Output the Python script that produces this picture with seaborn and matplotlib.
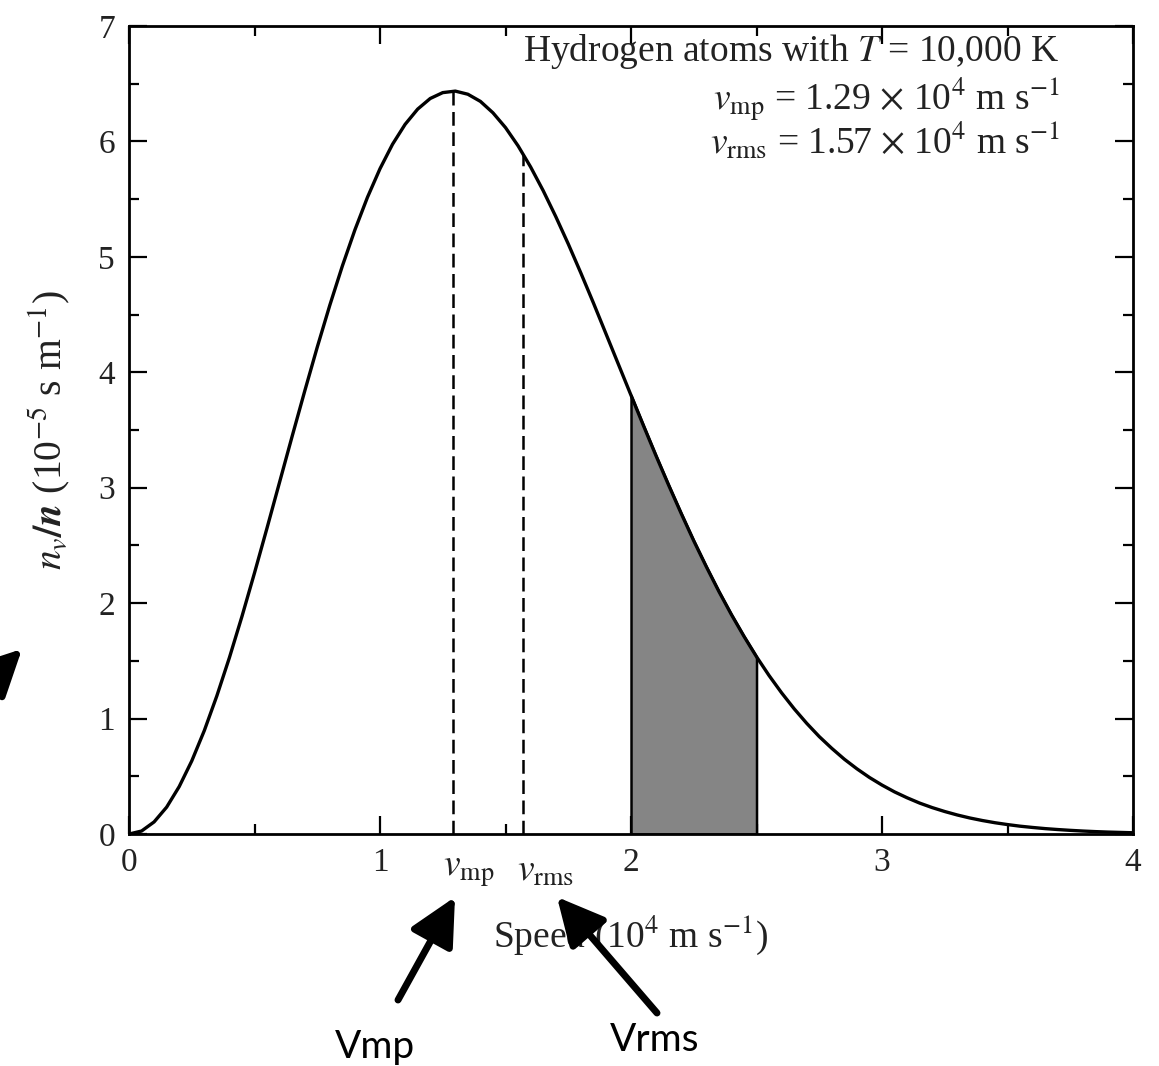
# Maxwell-Boltzmann speed distribution, hydrogen at 10,000 K
import numpy as np
import pandas as pd
import seaborn as sns
import matplotlib.pyplot as plt
import matplotlib
from matplotlib.ticker import MultipleLocator

sns.set_style('ticks')
plt.rcParams['font.family'] = ['Liberation Serif', 'DejaVu Serif']
plt.rcParams['mathtext.fontset'] = 'stix'

# Curve (speed in 1e4 m/s, n_v/n in 1e-5 s/m)
speed = [0.00, 0.05, 0.10, 0.15, 0.20, 0.25, 0.30, 0.35, 0.40, 0.45,
         0.50, 0.55, 0.60, 0.65, 0.70, 0.75, 0.80, 0.85, 0.90, 0.95,
         1.00, 1.05, 1.10, 1.15, 1.20, 1.25, 1.30, 1.35, 1.40, 1.45,
         1.50, 1.55, 1.60, 1.65, 1.70, 1.75, 1.80, 1.85, 1.90, 1.95,
         2.00, 2.05, 2.10, 2.15, 2.20, 2.25, 2.30, 2.35, 2.40, 2.45,
         2.50, 2.55, 2.60, 2.65, 2.70, 2.75, 2.80, 2.85, 2.90, 2.95,
         3.00, 3.05, 3.10, 3.15, 3.20, 3.25, 3.30, 3.35, 3.40, 3.45,
         3.50, 3.55, 3.60, 3.65, 3.70, 3.75, 3.80, 3.85, 3.90, 3.95, 4.00]
nv = [0.000, 0.026, 0.105, 0.233, 0.411, 0.633, 0.896, 1.197, 1.528, 1.885,
      2.262, 2.652, 3.049, 3.446, 3.837, 4.218, 4.581, 4.921, 5.234, 5.516,
      5.764, 5.976, 6.148, 6.280, 6.372, 6.423, 6.436, 6.409, 6.347, 6.248,
      6.120, 5.962, 5.779, 5.574, 5.350, 5.112, 4.861, 4.602, 4.335, 4.068,
      3.801, 3.536, 3.275, 3.022, 2.777, 2.540, 2.316, 2.102, 1.901, 1.713,
      1.536, 1.373, 1.223, 1.085, 0.959, 0.844, 0.742, 0.648, 0.565, 0.490,
      0.424, 0.365, 0.314, 0.268, 0.229, 0.195, 0.165, 0.139, 0.117, 0.098,
      0.082, 0.068, 0.057, 0.047, 0.039, 0.032, 0.026, 0.021, 0.017, 0.014, 0.011]

v_mp, v_rms = 1.29, 1.57
nv_at_mp, nv_at_rms = 6.44, 5.89
shade_lo, shade_hi = 2.0, 2.5

df = pd.DataFrame({'speed': speed, 'nv': nv})
shade = df[(df['speed'] >= shade_lo) & (df['speed'] <= shade_hi)]

fig = plt.figure(figsize=(11.59, 10.66), dpi=100)
ax = fig.add_axes([0.1113, 0.2176, 0.8663, 0.758])

ax.fill_between(shade['speed'], 0, shade['nv'], color='#858585',
                edgecolor='black', linewidth=1.8, zorder=1)
sns.lineplot(data=df, x='speed', y='nv', ax=ax, color='black', linewidth=2.4, zorder=3)
ax.vlines([v_mp, v_rms], 0, [nv_at_mp, nv_at_rms], colors='black',
          linewidth=1.8, linestyles=[(0, (5.5, 2.6))], zorder=2)

ax.set_xlim(0, 4)
ax.set_ylim(0, 7)
ax.xaxis.set_major_locator(MultipleLocator(1))
ax.xaxis.set_minor_locator(MultipleLocator(0.5))
ax.yaxis.set_major_locator(MultipleLocator(1))
ax.yaxis.set_minor_locator(MultipleLocator(0.5))
ax.tick_params(which='both', direction='in', top=True, right=True,
               labelsize=24, width=1.6, color='black', labelcolor='#222222')
ax.tick_params(which='major', length=13, pad=10)
ax.tick_params(which='minor', length=7)
for s in ax.spines.values():
    s.set_linewidth(2.0)
    s.set_color('black')

ax.set_xlabel(r'Speed (10$^4$ m s$^{-1}$)', fontsize=27, labelpad=25, color='#222222')
ax.set_ylabel(r'$\boldsymbol{n_v/n}$ (10$^{-5}$ s m$^{-1}$)', fontsize=28.5, labelpad=19,
              color='#222222')

# labels for the two special speeds under the axis
lab_tr = matplotlib.transforms.blended_transform_factory(ax.transData, ax.transAxes)
ax.text(v_mp - 0.04, -0.025, r'$v_{\rm mp}$', transform=lab_tr, ha='left', va='top',
        fontsize=27, color='#222222')
ax.text(v_rms - 0.025, -0.025, r'$v_{\rm rms}$', transform=lab_tr, ha='left', va='top',
        fontsize=27, color='#222222')

ax.text(0.927, 0.968, r'Hydrogen atoms with $T$ = 10,000 K', transform=ax.transAxes,
        ha='right', va='center', fontsize=27, color='#222222')
ax.text(0.927, 0.908, r'$v_{\rm mp}$ = 1.29 $\times$ 10$^4$ m s$^{-1}$', transform=ax.transAxes,
        ha='right', va='center', fontsize=27, color='#222222')
ax.text(0.927, 0.857, r'$v_{\rm rms}$ = 1.57 $\times$ 10$^4$ m s$^{-1}$', transform=ax.transAxes,
        ha='right', va='center', fontsize=27, color='#222222')

# overlay arrows and sans-serif captions
arrow = dict(arrowstyle='-|>,head_length=0.8,head_width=0.4', mutation_scale=36,
             lw=5, color='black', shrinkA=0, shrinkB=0)
H = 1066
ax.annotate('', xy=(455, H - 897), xytext=(398, H - 1000),
            xycoords='figure pixels', textcoords='figure pixels', arrowprops=arrow)
ax.annotate('', xy=(557, H - 897), xytext=(657, H - 1013),
            xycoords='figure pixels', textcoords='figure pixels', arrowprops=arrow)
ax.annotate('', xy=(22, H - 649), xytext=(-50, H - 720),
            xycoords='figure pixels', textcoords='figure pixels', arrowprops=arrow,
            annotation_clip=False)
fig.text(375 / 1159, 1 - 1047 / H, 'Vmp', ha='center', va='center',
         fontsize=28, family=['Lato', 'DejaVu Sans'], color='black')
fig.text(655 / 1159, 1 - 1040 / H, 'Vrms', ha='center', va='center',
         fontsize=28, family=['Lato', 'DejaVu Sans'], color='black')

fig.savefig('out.png', dpi=100)
